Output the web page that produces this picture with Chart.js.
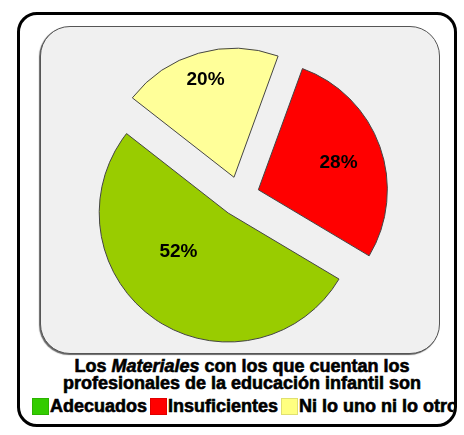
<!DOCTYPE html>
<html>
<head>
<meta charset="utf-8">
<script src="https://cdn.jsdelivr.net/npm/chart.js@4.4.0/dist/chart.umd.min.js"></script>
<style>
  html, body { margin: 0; padding: 0; background: #fff; }
  #wrap { position: relative; width: 464px; height: 435px; overflow: hidden; font-family: "Liberation Sans", Arial, sans-serif; }
  #outer { position: absolute; left: 17px; top: 12px; width: 434px; height: 409px; border: 3px solid #000; border-radius: 20px; overflow: hidden; }
  #plotbg { position: absolute; left: 40px; top: 26px; width: 398px; height: 326px; background: #f0f0f0; border: 1px solid #555; border-radius: 30px; box-shadow: -1px 1px 1px #666; }
  #c { position: absolute; left: 0; top: 0; }
  .title { position: absolute; left: 0; width: 484px; text-align: center; font-weight: bold; font-size: 18px; line-height: 17px; color: #000; -webkit-text-stroke: 0.6px #000; white-space: nowrap; }
  #legend { position: absolute; left: 12px; top: 383px; height: 20px; white-space: nowrap; font-weight: bold; font-size: 18px; line-height: 17px; -webkit-text-stroke: 0.6px #000; }
  #legend span.box { display: inline-block; width: 17px; height: 17px; vertical-align: -3px; box-sizing: border-box; border: 1px solid rgba(0,0,0,0.12); margin-right: 1px; }
  #legend span.lab { margin-right: 3px; }
</style>
</head>
<body>
<div id="wrap">
  <div id="outer">
    <div id="legend"></div>
  </div>
  <div id="plotbg"></div>
  <div class="title" id="t1" style="top:358px;">Los <i>Materiales</i> con los que cuentan los</div>
  <div class="title" id="t2" style="top:375px;">profesionales de la educación infantil son</div>
  <canvas id="c" width="464" height="435"></canvas>
</div>
<script>
// data, in drawing order (clockwise from the red slice)
const labels = ['Insuficientes', 'Adecuados', 'Ni lo uno ni lo otro'];
const values = [28, 52, 20];
const sliceColors = ['#ff0000', '#99cc00', '#ffff99'];
const legendColors = ['#ff0000', '#33cc00', '#ffff80'];
const legendOrder = [1, 0, 2];

// legend as html
const legendEl = document.getElementById('legend');
legendOrder.forEach(function (i) {
  legendEl.insertAdjacentHTML('beforeend',
    '<span class="box" style="background:' + legendColors[i] + '"></span><span class="lab">' + labels[i] + '</span>');
});

// pull every slice out from the centre
const explodePlugin = {
  id: 'explode',
  afterDatasetsUpdate(chart, args, opts) {
    const meta = chart.getDatasetMeta(0);
    meta.data.forEach(function (arc) {
      const mid = (arc.startAngle + arc.endAngle) / 2;
      arc.x += Math.cos(mid) * opts.distance;
      arc.y += Math.sin(mid) * opts.distance;
    });
  }
};

// percentage labels inside the slices
const pctPlugin = {
  id: 'pct',
  afterDatasetsDraw(chart, args, opts) {
    const ctx = chart.ctx;
    const meta = chart.getDatasetMeta(0);
    ctx.save();
    ctx.font = opts.font;
    ctx.fillStyle = '#000';
    ctx.textAlign = 'center';
    ctx.textBaseline = 'middle';
    meta.data.forEach(function (arc, i) {
      const p = opts.place[i];
      const a = (arc.startAngle + arc.endAngle) / 2 + p.turn * Math.PI / 180;
      const r = arc.outerRadius * p.frac;
      ctx.fillText(values[i] + '%', arc.x + Math.cos(a) * r, arc.y + Math.sin(a) * r + 2);
    });
    ctx.restore();
  }
};

new Chart(document.getElementById('c'), {
  type: 'pie',
  data: {
    labels: labels,
    datasets: [{
      data: values,
      backgroundColor: sliceColors,
      borderColor: '#444',
      borderWidth: 1
    }]
  },
  options: {
    responsive: false,
    animation: false,
    rotation: 20,
    layout: { padding: { left: 110, right: 95, top: 67, bottom: 109 } },
    plugins: {
      legend: { display: false },
      tooltip: { enabled: false },
      explode: { distance: 20 },
      pct: {
        font: 'bold 19px "Liberation Sans", Arial, sans-serif',
        place: [{ frac: 0.66, turn: 0 }, { frac: 0.48, turn: 19 }, { frac: 0.8, turn: 0 }]
      }
    }
  },
  plugins: [explodePlugin, pctPlugin]
});
</script>
</body>
</html>
